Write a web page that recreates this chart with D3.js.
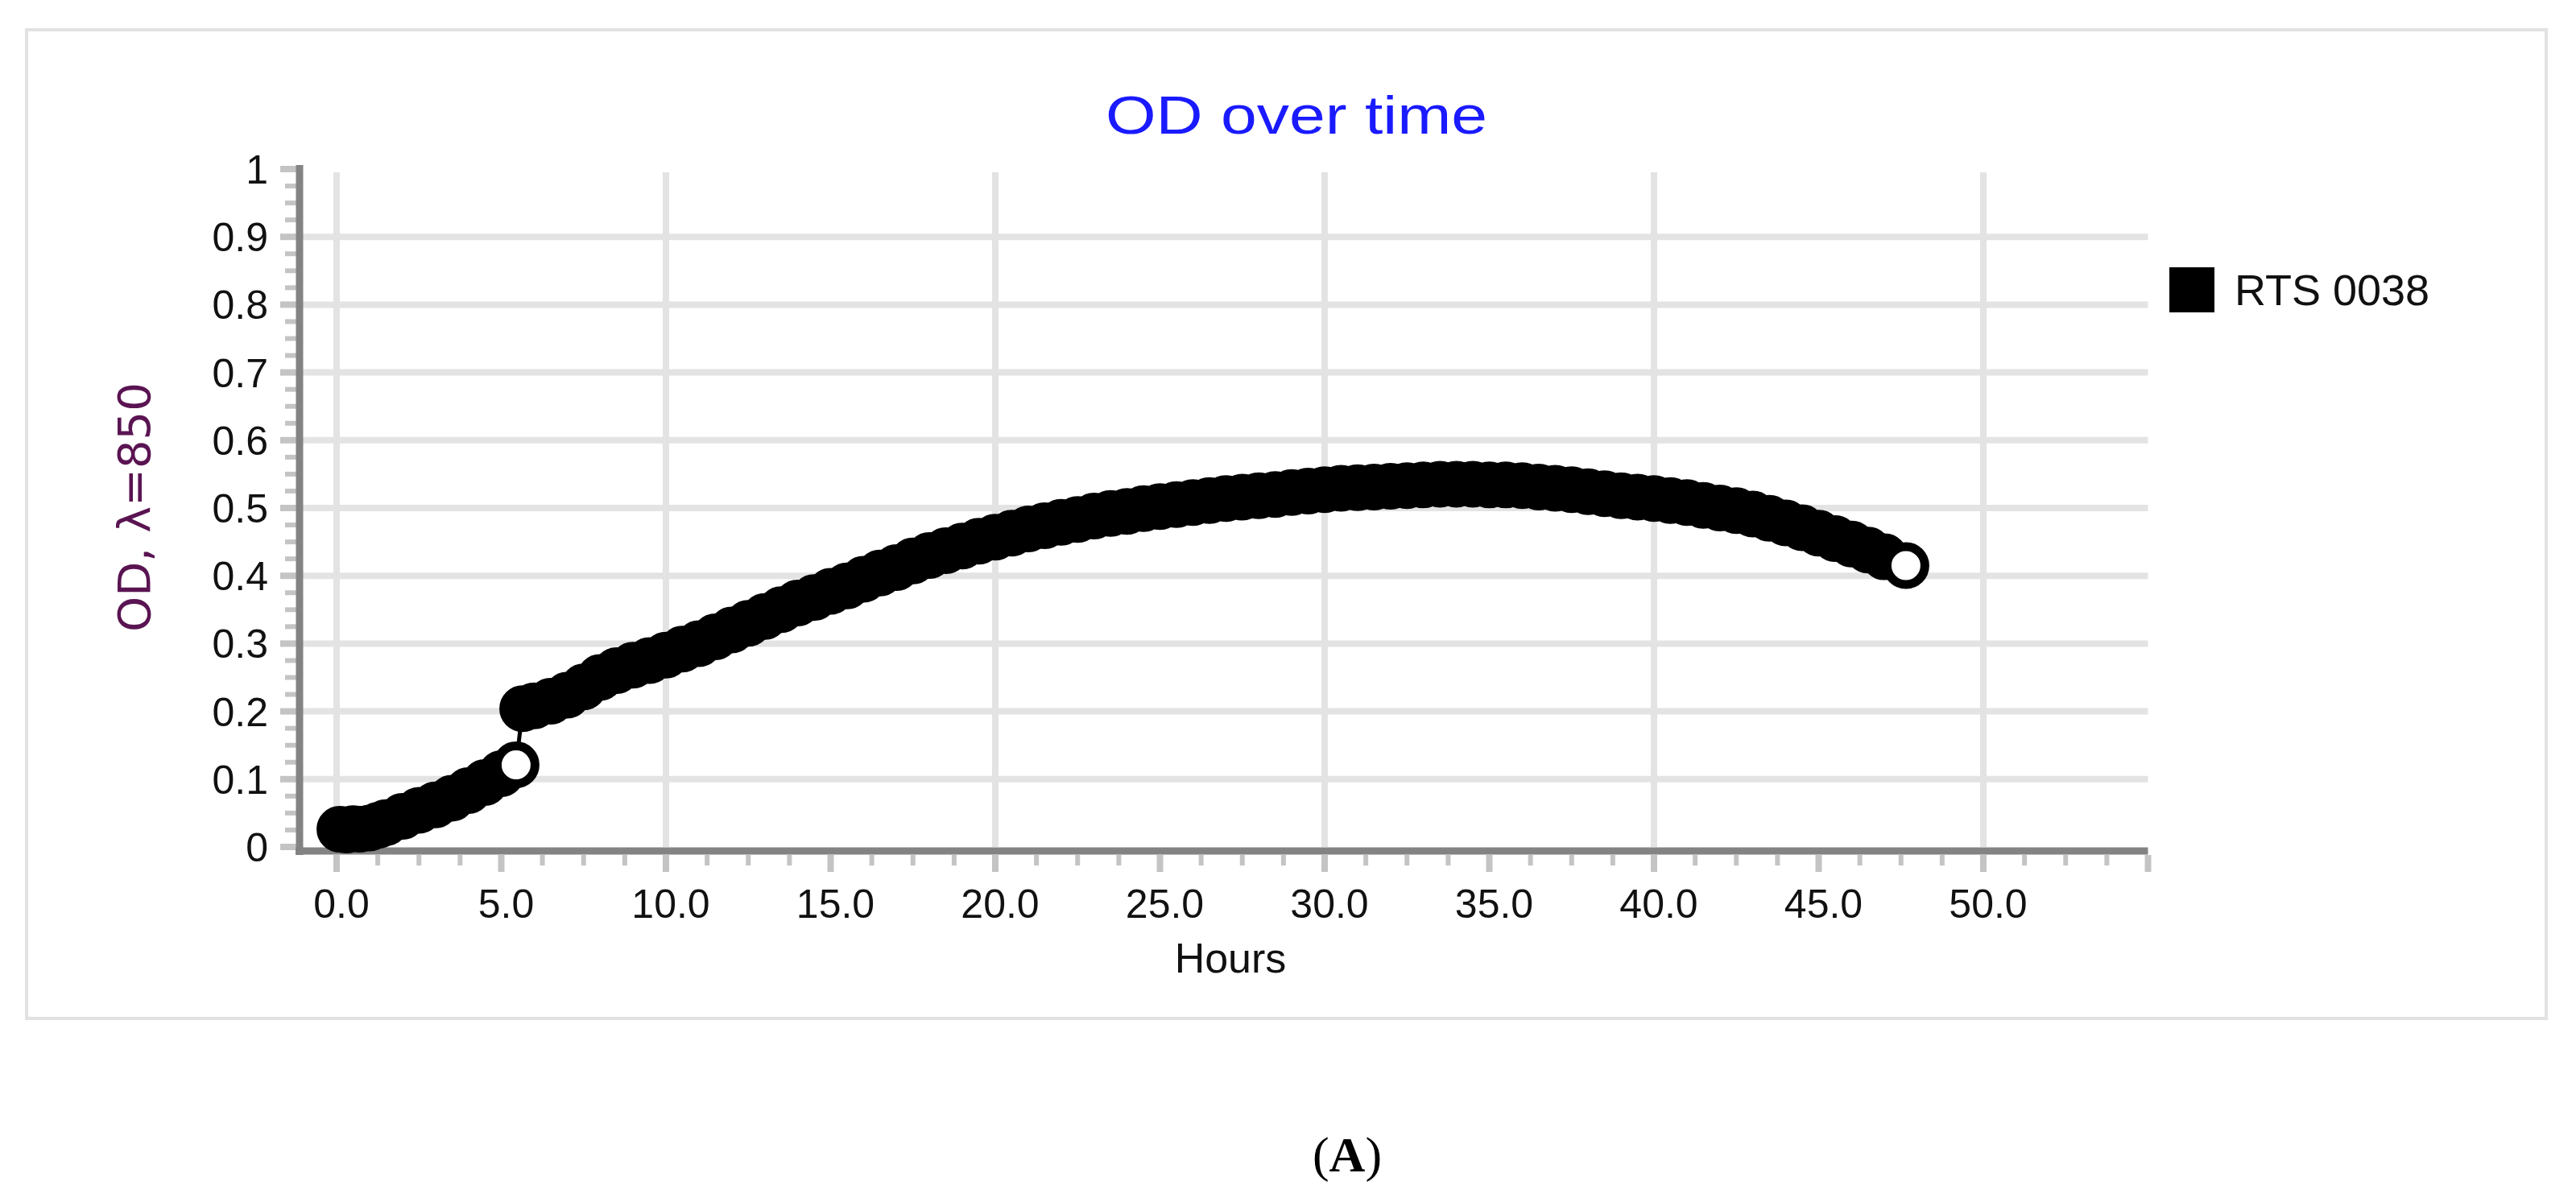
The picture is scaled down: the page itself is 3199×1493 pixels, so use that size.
<!DOCTYPE html>
<html><head><meta charset="utf-8">
<script src="https://cdn.jsdelivr.net/npm/d3@7"></script>
<style>body{margin:0;background:#fff}svg{display:block}</style>
</head><body>
<script>
// Data
const hoursA = [0.1,0.3,0.5,0.7,1.0,1.27,1.5,2.0,2.5,3.0,3.5,4.0,4.5,5.0,5.45];
const odA    = [0.026,0.025,0.027,0.026,0.028,0.032,0.036,0.045,0.054,0.062,0.072,0.083,0.095,0.108,0.121];
const hoursB = [5.65,6,6.5,7,7.5,8,8.5,9,9.5,10,10.5,11,11.5,12,12.5,13,13.5,14,14.5,15,15.5,16,16.5,17,17.5,18,18.5,19,19.5,20,20.5,21,21.5,22,22.5,23,23.5,24,24.5,25,25.5,26,26.5,27,27.5,28,28.5,29,29.5,30,30.5,31,31.5,32,32.5,33,33.5,34,34.5,35,35.5,36,36.5,37,37.5,38,38.5,39,39.5,40,40.5,41,41.5,42,42.5,43,43.5,44,44.5,45,45.5,46,46.5,47,47.65];
const odB    = [0.204,0.208,0.215,0.224,0.236,0.25,0.26,0.268,0.275,0.283,0.292,0.30,0.31,0.32,0.33,0.34,0.35,0.36,0.368,0.377,0.385,0.395,0.404,0.412,0.422,0.43,0.437,0.444,0.451,0.457,0.463,0.469,0.474,0.479,0.483,0.488,0.492,0.495,0.499,0.502,0.505,0.508,0.511,0.514,0.516,0.518,0.52,0.523,0.525,0.527,0.529,0.53,0.531,0.532,0.533,0.534,0.535,0.535,0.535,0.534,0.534,0.533,0.531,0.529,0.527,0.524,0.521,0.518,0.516,0.514,0.511,0.508,0.504,0.5,0.496,0.491,0.485,0.478,0.471,0.463,0.455,0.447,0.438,0.428,0.415];
const xTicks = [0,5,10,15,20,25,30,35,40,45,50];
const yTicks = [0,0.1,0.2,0.3,0.4,0.5,0.6,0.7,0.8,0.9,1];
const yTickLabels = ["0","0.1","0.2","0.3","0.4","0.5","0.6","0.7","0.8","0.9","1"];
const seriesName = "RTS 0038";

const W=3199,H=1493;
const svg=d3.select("body").append("svg").attr("width",W).attr("height",H);
const F="Liberation Sans, Arial, sans-serif";
svg.append("rect").attr("x",33).attr("y",37).attr("width",3129).attr("height",1228)
  .attr("fill","none").attr("stroke","#e2e2e2").attr("stroke-width",4);

const x=d3.scaleLinear().domain([0,55]).range([418,418+55*40.9]);
const y=d3.scaleLinear().domain([0,1]).range([1052,210]);
const L=372, R=x(55);

// grid
svg.append("g").selectAll("line").data(yTicks.filter(d=>d>0&&d<1)).join("line")
  .attr("x1",L+4).attr("x2",R).attr("y1",d=>y(d)).attr("y2",d=>y(d))
  .attr("stroke","#e3e3e3").attr("stroke-width",8);
svg.append("g").selectAll("line").data(xTicks.filter(d=>d%10===0)).join("line")
  .attr("x1",d=>x(d)).attr("x2",d=>x(d)).attr("y1",214).attr("y2",1052)
  .attr("stroke","#e3e3e3").attr("stroke-width",8);

// minor ticks
const yMinor=d3.range(0,41).map(i=>i*0.025);
svg.append("g").selectAll("line").data(yMinor).join("line")
  .attr("x1",d=>Math.round(d*40)%4===0?348:354).attr("x2",368)
  .attr("y1",d=>y(d)).attr("y2",d=>y(d))
  .attr("stroke","#c4c4c4").attr("stroke-width",d=>Math.round(d*40)%4===0?8:6);
const xMinor=d3.range(0,45).map(i=>i*1.25);
svg.append("g").selectAll("line").data(xMinor).join("line")
  .attr("x1",d=>x(d)).attr("x2",d=>x(d)).attr("y1",1062)
  .attr("y2",d=>Math.round(d/1.25)%4===0?1083:1075)
  .attr("stroke","#c4c4c4").attr("stroke-width",d=>Math.round(d/1.25)%4===0?8:6);

// axes bars
svg.append("line").attr("x1",L).attr("x2",L).attr("y1",205).attr("y2",1062).attr("stroke","#838383").attr("stroke-width",9);
svg.append("line").attr("x1",L-5).attr("x2",R).attr("y1",1057).attr("y2",1057).attr("stroke","#838383").attr("stroke-width",9);

// tick labels
svg.append("g").selectAll("text").data(yTicks).join("text")
  .attr("x",333).attr("y",d=>y(d)).attr("dy","0.36em").attr("text-anchor","end")
  .attr("font-family",F).attr("font-size",50).attr("fill","#111").text((d,i)=>yTickLabels[i]);
svg.append("g").selectAll("text").data(xTicks).join("text")
  .attr("x",d=>x(d)+6).attr("y",1140).attr("text-anchor","middle")
  .attr("font-family",F).attr("font-size",50).attr("fill","#111").text(d=>d.toFixed(1));

// titles
svg.append("text").attr("x",1610).attr("y",166).attr("text-anchor","middle")
  .attr("font-family",F).attr("font-size",66).attr("fill","#1a1aff")
  .attr("textLength",474).attr("lengthAdjust","spacingAndGlyphs").text("OD over time");
svg.append("text").attr("x",1528).attr("y",1208).attr("text-anchor","middle")
  .attr("font-family",F).attr("font-size",52).attr("fill","#111").text("Hours");
svg.append("text").attr("transform","translate(186,630) rotate(-90)").attr("text-anchor","middle")
  .attr("font-family","DejaVu Sans, sans-serif").attr("font-size",56).attr("fill","#5a1452").text("OD, λ=850");

// legend
svg.append("rect").attr("x",2694).attr("y",332).attr("width",56).attr("height",56).attr("fill","#000");
svg.append("text").attr("x",2775).attr("y",379).attr("font-family",F).attr("font-size",54).attr("fill","#111").text(seriesName);

// caption
const cap=svg.append("text").attr("x",1673).attr("y",1455).attr("text-anchor","middle")
  .attr("font-family","Liberation Serif, serif").attr("font-size",62).attr("fill","#000");
cap.append("tspan").text("(");
cap.append("tspan").attr("font-weight","bold").text("A");
cap.append("tspan").text(")");

// series
const pts=hoursA.map((h,i)=>({h,v:odA[i],last:i===hoursA.length-1}))
  .concat(hoursB.map((h,i)=>({h,v:odB[i],last:i===hoursB.length-1})));
svg.append("path").datum(pts).attr("fill","none").attr("stroke","#000").attr("stroke-width",5)
  .attr("d",d3.line().x(d=>x(d.h)).y(d=>y(d.v)));
svg.append("g").selectAll("circle").data(pts).join("circle")
  .attr("cx",d=>x(d.h)).attr("cy",d=>y(d.v)).attr("r",23.5)
  .attr("fill",d=>d.last?"#fff":"#000").attr("stroke","#000").attr("stroke-width",11);
</script>
</body></html>
